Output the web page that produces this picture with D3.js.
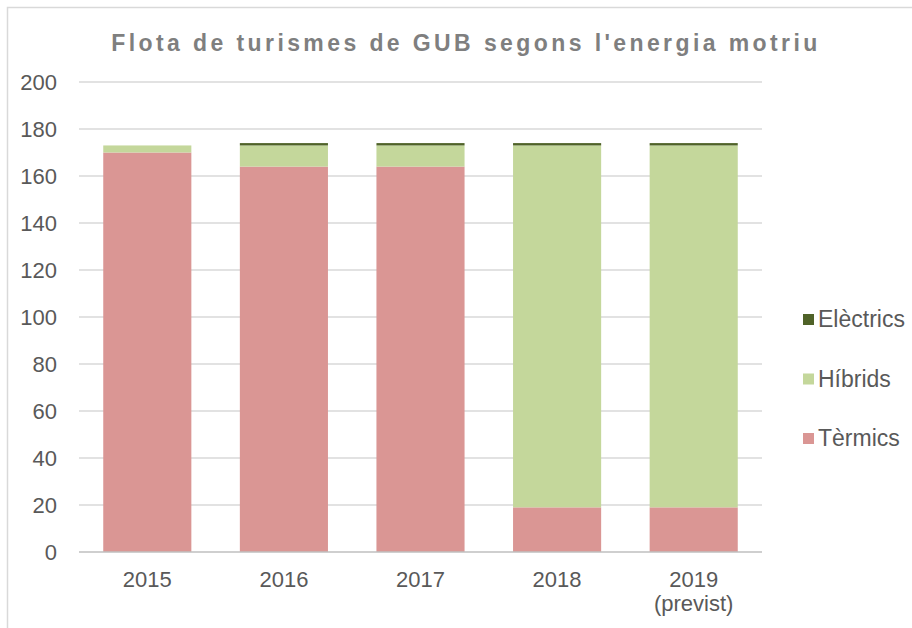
<!DOCTYPE html>
<html>
<head>
<meta charset="utf-8">
<script src="https://cdn.jsdelivr.net/npm/d3@7"></script>
<style>
  body { margin: 0; background: #fff; }
  text { font-family: "Liberation Sans", Arial, sans-serif; }
</style>
</head>
<body>
<div id="chart"></div>
<script>
// chart data
var years = ["2015", "2016", "2017", "2018", "2019"];
var yearNotes = ["", "", "", "", "(previst)"];
var termics = [170, 164, 164, 19, 19];
var hibrids = [3, 9, 9, 154, 154];
var electrics = [0, 1, 1, 1, 1];
var seriesNames = ["Tèrmics", "Híbrids", "Elèctrics"];
var yTicks = [0, 20, 40, 60, 80, 100, 120, 140, 160, 180, 200];

var width = 912, height = 628;
var plotLeft = 79, plotRight = 762, plotTop = 82, plotBottom = 552;

var svg = d3.select("#chart").append("svg")
    .attr("width", width)
    .attr("height", height);

// outer frame (only top and left visible)
svg.append("path")
    .attr("d", "M7.5," + height + "V7.5H" + width)
    .attr("fill", "none")
    .attr("stroke", "#d9d9d9")
    .attr("stroke-width", 1.5);

var rows = years.map(function(y, i) {
    return {year: y, note: yearNotes[i], "Tèrmics": termics[i], "Híbrids": hibrids[i], "Elèctrics": electrics[i]};
});

var x = d3.scaleBand()
    .domain(years)
    .range([plotLeft, plotRight])
    .paddingInner(0.355)
    .paddingOuter(0.1775);

var y = d3.scaleLinear()
    .domain([0, 200])
    .range([plotBottom, plotTop]);

var color = d3.scaleOrdinal()
    .domain(seriesNames)
    .range(["#da9694", "#c4d79b", "#4f6228"]);

// gridlines
svg.append("g")
    .selectAll("line")
    .data(yTicks.slice(1))
    .enter().append("line")
    .attr("x1", plotLeft)
    .attr("x2", plotRight)
    .attr("y1", function(d) { return y(d); })
    .attr("y2", function(d) { return y(d); })
    .attr("stroke", "#d9d9d9")
    .attr("stroke-width", 1.3);

// y labels
svg.append("g")
    .selectAll("text")
    .data(yTicks)
    .enter().append("text")
    .attr("x", 57)
    .attr("y", function(d) { return y(d); })
    .attr("dy", "0.36em")
    .attr("text-anchor", "end")
    .attr("font-size", 22)
    .attr("fill", "#595959")
    .text(function(d) { return d; });

// stacked bars
var stack = d3.stack().keys(seriesNames);
var layers = stack(rows);

svg.append("g")
    .selectAll("g")
    .data(layers)
    .enter().append("g")
    .attr("fill", function(d) { return color(d.key); })
    .selectAll("rect")
    .data(function(d) { return d; })
    .enter().append("rect")
    .attr("x", function(d) { return x(d.data.year); })
    .attr("width", x.bandwidth())
    .attr("y", function(d) { return y(d[1]); })
    .attr("height", function(d) { return Math.max(0, y(d[0]) - y(d[1])); });

// zero axis line
svg.append("line")
    .attr("x1", plotLeft)
    .attr("x2", plotRight)
    .attr("y1", y(0))
    .attr("y2", y(0))
    .attr("stroke", "#bfbfbf")
    .attr("stroke-width", 1.5);

// x labels
var xl = svg.append("g")
    .selectAll("text")
    .data(rows)
    .enter().append("text")
    .attr("text-anchor", "middle")
    .attr("font-size", 22)
    .attr("fill", "#595959")
    .attr("x", function(d) { return x(d.year) + x.bandwidth() / 2; })
    .attr("y", 587);
xl.append("tspan").text(function(d) { return d.year; });
xl.append("tspan")
    .attr("x", function(d) { return x(d.year) + x.bandwidth() / 2; })
    .attr("dy", 24)
    .text(function(d) { return d.note; });

// title
svg.append("text")
    .attr("x", 466)
    .attr("y", 51)
    .attr("text-anchor", "middle")
    .attr("font-size", 23)
    .attr("font-weight", "bold")
    .attr("letter-spacing", 3.4)
    .attr("fill", "#7f7f7f")
    .text("Flota de turismes de GUB segons l'energia motriu");

// legend
var legend = svg.append("g")
    .selectAll("g")
    .data(seriesNames.slice().reverse())
    .enter().append("g")
    .attr("transform", function(d, i) { return "translate(803," + (319 + i * 59.5) + ")"; });

legend.append("rect")
    .attr("x", 0)
    .attr("y", -5)
    .attr("width", 11)
    .attr("height", 11)
    .attr("fill", function(d) { return color(d); });

legend.append("text")
    .attr("x", 15)
    .attr("y", 0)
    .attr("dy", "0.36em")
    .attr("font-size", 23)
    .attr("fill", "#595959")
    .text(function(d) { return d; });
</script>
</body>
</html>
